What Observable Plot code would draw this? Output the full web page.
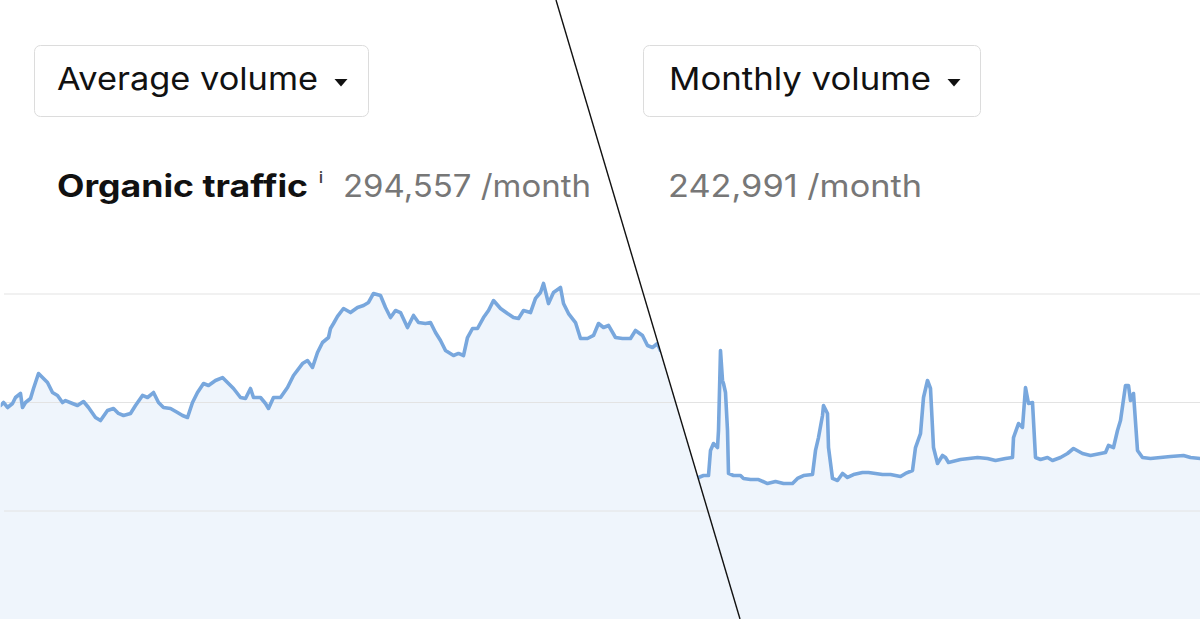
<!DOCTYPE html>
<html>
<head>
<meta charset="utf-8">
<script src="https://cdn.jsdelivr.net/npm/d3@7"></script>
<script src="https://cdn.jsdelivr.net/npm/@observablehq/plot@0.6"></script>
<style>
  html, body { margin: 0; padding: 0; background: #fff; }
  #chart { width: 1200px; height: 619px; overflow: hidden; }
  #chart svg { display: block; }
</style>
</head>
<body>
<div id="chart"></div>
<script>
// ---- data (values in thousands of visits, x = day index) ----
const leftDays = [0,3,7,12,15,20,22,25,30,33,38,42,47,52,57,62,65,72,77,83,88,95,100,107,113,118,123,130,135,142,147,153,158,163,170,177,182,187,192,197,203,208,215,222,228,233,240,245,250,253,260,265,268,273,280,287,293,302,307,312,317,322,328,330,333,337,343,350,357,363,368,373,380,385,390,395,400,407,413,418,425,430,435,440,445,453,458,463,467,472,477,483,488,493,500,507,513,518,523,530,535,540,543,548,553,560,563,568,575,580,587,593,598,603,608,615,622,630,635,642,647,652,657,660,668,680,700,720,745];
const leftValues = [197.2,200.0,195.4,199.1,204.6,208.3,195.4,200.0,203.7,212.9,226.7,223.0,218.4,209.2,206.5,200.0,201.8,199.1,197.2,200.9,195.4,186.2,183.4,192.6,194.5,189.9,188.0,189.9,197.2,206.5,204.6,209.2,200.0,195.4,194.5,190.8,188.0,186.2,200.0,209.2,217.5,215.7,220.3,223.0,217.5,212.9,204.6,203.7,212.9,204.6,204.6,199.1,194.5,204.6,204.6,213.8,224.9,235.9,238.7,232.3,246.1,255.3,259.9,268.2,272.8,279.3,286.6,282.9,287.6,289.4,292.2,300.5,298.6,287.6,278.3,284.8,282.9,269.1,280.2,273.7,272.8,273.7,264.5,257.1,247.9,243.3,245.2,243.3,259.9,268.2,268.2,278.3,284.8,294.0,286.6,282.0,278.3,277.4,284.8,282.9,295.9,301.4,309.7,291.2,301.4,306.0,291.2,282.0,273.7,259.0,259.0,261.8,272.8,269.1,271.0,259.9,259.0,259.0,266.4,261.8,252.5,250.7,254.4,247.9,246.1,249.8,243.3,247.9,246.1];

const rightDays = [690,698,703,708,710,713,717,718,720,722,723,725,727,728,733,740,743,750,758,767,775,783,792,797,803,812,815,818,822,823,827,828,832,837,842,847,853,862,868,875,882,890,900,905,912,915,920,923,927,930,933,937,942,945,948,960,977,987,995,1005,1012,1013,1018,1022,1025,1028,1032,1035,1040,1047,1052,1060,1067,1073,1082,1090,1100,1105,1108,1113,1117,1120,1125,1128,1130,1133,1137,1142,1150,1160,1170,1183,1190,1200];
const rightValues = [130.9,130.9,132.7,132.7,155.8,162.2,158.5,174.2,247.9,220.3,217.5,209.2,174.2,134.6,132.7,132.7,130.0,129.0,129.0,125.3,127.2,125.3,125.3,130.0,132.7,133.6,155.8,167.7,188.0,197.2,189.9,158.5,130.0,128.1,134.6,130.9,133.6,135.5,135.5,134.6,133.6,133.6,131.8,134.6,137.3,158.5,171.4,204.6,220.3,212.9,158.5,143.8,151.2,149.3,144.7,147.5,149.3,148.4,146.5,148.4,149.3,167.7,180.6,177.0,213.8,199.1,200.0,149.3,147.5,149.3,146.5,149.3,153.0,157.6,153.0,151.2,153.0,153.9,160.4,158.5,174.2,183.4,215.7,215.7,201.8,208.3,155.8,149.3,148.4,149.3,150.2,151.2,149.3,148.4];

const gridValues = [100, 200, 300];

const labels = {
  leftButton: "Average volume",
  rightButton: "Monthly volume",
  metric: "Organic traffic",
  info: "i",
  leftTotal: "294,557 /month",
  rightTotal: "242,991 /month"
};

// ---- build tables ----
const left = leftDays.map((d, i) => ({day: d, value: leftValues[i]}));
const right = rightDays.map((d, i) => ({day: d, value: rightValues[i]}));

const lineColor = "#78a7dd";
const fillColor = "#eff5fc";

const chart = Plot.plot({
  width: 1200,
  height: 619,
  margin: 0,
  x: {domain: [0, 1200], axis: null},
  y: {domain: [0, 570.5], axis: null},
  style: {background: "transparent", overflow: "hidden"},
  marks: [
    Plot.areaY(left, {x: "day", y: "value", fill: fillColor, className: "left-part"}),
    Plot.areaY(right, {x: "day", y: "value", fill: fillColor, className: "right-part"}),
    Plot.ruleY(gridValues, {stroke: "#e3e3e3", strokeWidth: 1, insetLeft: 4}),
    Plot.lineY(left, {x: "day", y: "value", stroke: lineColor, strokeWidth: 3.6, strokeLinejoin: "round", className: "left-part"}),
    Plot.lineY(right, {x: "day", y: "value", stroke: lineColor, strokeWidth: 3.6, strokeLinejoin: "round", className: "right-part"})
  ]
});

document.getElementById("chart").appendChild(chart);

// ---- split-view clipping and decoration ----
const svg = d3.select(chart);
const W = 1200, H = 619, topX = 556, botX = 740;
const defs = svg.insert("defs", ":first-child");
defs.append("clipPath").attr("id", "clipLeft")
  .append("polygon").attr("points", `0,0 ${topX},0 ${botX},${H} 0,${H}`);
defs.append("clipPath").attr("id", "clipRight")
  .append("polygon").attr("points", `${topX},0 ${W},0 ${W},${H} ${botX},${H}`);
let groups = svg.selectAll(":scope > g").nodes();
let lefts = svg.selectAll("g.left-part");
let rights = svg.selectAll("g.right-part");
if (lefts.empty() && groups.length >= 5) {
  lefts = d3.selectAll([groups[0], groups[3]]);
  rights = d3.selectAll([groups[1], groups[4]]);
}
lefts.attr("clip-path", "url(#clipLeft)");
rights.attr("clip-path", "url(#clipRight)");

svg.append("line")
  .attr("x1", topX).attr("y1", 0).attr("x2", botX).attr("y2", H)
  .attr("stroke", "#111").attr("stroke-width", 1.4);

const font = "Inter, 'Noto Sans', sans-serif";
const ui = svg.append("g").attr("font-family", font).attr("text-anchor", "start");

function label(x, y, size, weight, color, text, width) {
  const t = ui.append("text").attr("x", x).attr("y", y)
    .attr("font-size", size).attr("font-weight", weight).attr("fill", color).text(text);
  if (width) t.attr("textLength", width).attr("lengthAdjust", "spacingAndGlyphs");
  return t;
}

function button(x, w, tx, tw, text) {
  ui.append("rect").attr("x", x + 0.5).attr("y", 45.5).attr("width", w).attr("height", 71)
    .attr("rx", 6).attr("fill", "#fff").attr("stroke", "#dcdcdc");
  label(tx, 90, 31.5, 400, "#111", text, tw);
  const cx = tx + tw + 23;
  ui.append("path").attr("d", `M${cx - 6.5},79 L${cx + 6.5},79 L${cx},86.5 Z`).attr("fill", "#111");
}
button(34, 334, 57, 261, labels.leftButton);
button(643, 337, 669, 262, labels.rightButton);

label(57, 197, 31, 700, "#111", labels.metric, 251);
label(319, 183, 15, 600, "#444", labels.info);
label(343, 197, 31, 400, "#777", labels.leftTotal, 248);
label(668, 197, 31, 400, "#777", labels.rightTotal, 254);
</script>
</body>
</html>
